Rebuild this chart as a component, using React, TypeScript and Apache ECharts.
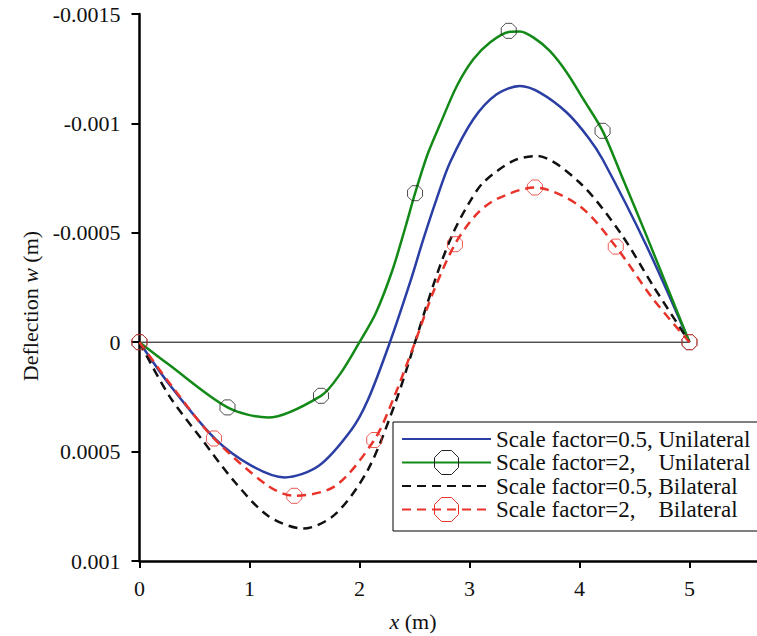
import React, { useEffect, useRef } from "react";
import * as echarts from "echarts";

const NAME_U05 = "Scale factor=0.5, Unilateral";
const NAME_U2 = "Scale factor=2,    Unilateral";
const NAME_B05 = "Scale factor=0.5, Bilateral";
const NAME_B2 = "Scale factor=2,    Bilateral";

const xTicks = [0, 1, 2, 3, 4, 5];

const u05Curve: [number, number][] = [
  [0, 0], [0.27, 0.000192], [0.69, 0.000443], [1.02, 0.000565], [1.32, 0.000618],
  [1.63, 0.000565], [1.93, 0.000398], [2.08, 0.00026], [2.277, 0], [2.459, -0.000272],
  [2.58, -0.00047], [2.7, -0.000653], [2.823, -0.000821], [3.035, -0.001019],
  [3.247, -0.001133], [3.459, -0.001171], [3.64, -0.001141], [3.884, -0.00105],
  [4.08, -0.000936], [4.21, -0.000836], [4.61, -0.00044], [5, 0],
];

const u2Curve: [number, number][] = [
  [0, 0], [0.26, 0.0001], [0.8, 0.000298], [1.17, 0.000344], [1.65, 0.000245],
  [1.823, 0.000146], [2.0, 0], [2.15, -0.000135], [2.3, -0.00033], [2.42, -0.00053],
  [2.505, -0.00068], [2.62, -0.00086], [2.732, -0.000995], [2.884, -0.00117],
  [3.035, -0.001293], [3.186, -0.00137], [3.357, -0.001418], [3.459, -0.00142],
  [3.58, -0.001393], [3.73, -0.001331], [3.884, -0.001233], [4.035, -0.001111],
  [4.21, -0.000966], [4.4, -0.00074], [4.61, -0.000486], [5, 0],
];

const b05Curve: [number, number][] = [
  [0, 0], [0.27, 0.000245], [0.565, 0.000443], [0.87, 0.000641], [1.17, 0.000794],
  [1.49, 0.000852], [1.78, 0.000786], [2.08, 0.00058], [2.338, 0.00026], [2.505, 0],
  [2.61, -0.000167], [2.732, -0.000349], [2.853, -0.000501], [2.99, -0.000631],
  [3.126, -0.00073], [3.398, -0.000829], [3.61, -0.000851], [4.0, -0.00073],
  [4.37, -0.000501], [4.67, -0.000257], [5, 0],
];

const b2Curve: [number, number][] = [
  [0, 0], [0.3, 0.000205], [0.677, 0.00044], [1.17, 0.000657], [1.407, 0.000702],
  [1.78, 0.000657], [2.134, 0.000447], [2.307, 0.00026], [2.505, 0], [2.67, -0.000228],
  [2.868, -0.000448], [3.065, -0.000585], [3.247, -0.000654], [3.59, -0.000707],
  [4.0, -0.000623], [4.33, -0.000437], [4.67, -0.000197], [5, 0],
];

const u2Markers: [number, number][] = [
  [0, 0], [0.8, 0.000298], [1.65, 0.000245], [2.505, -0.000681], [3.357, -0.001423],
  [4.21, -0.000966], [5, 0],
];

const b2Markers: [number, number][] = [
  [0, 0], [0.677, 0.00044], [1.407, 0.000702], [2.134, 0.000447], [2.868, -0.000448],
  [3.595, -0.000707], [4.33, -0.000437], [5, 0],
];

const zeroLine: [number, number][] = [[0, 0], [5, 0]];

const BLUE = "#2b3ea3";
const GREEN = "#138a18";
const BLACK = "#111111";
const RED = "#e8332a";
const FONT = "Liberation Serif";
const OCT = "path://M-4.14,-10L4.14,-10L10,-4.14L10,4.14L4.14,10L-4.14,10L-10,4.14L-10,-4.14Z";

export default function App() {
  const ref = useRef<HTMLDivElement>(null);
  useEffect(() => {
    if (!ref.current) return;
    const chart = echarts.init(ref.current, undefined, { renderer: "svg" });
    const curve = (name: string, data: [number, number][], color: string, dashed: boolean, sym: string) => ({
      type: "line",
      name,
      data,
      smooth: 0.3,
      symbol: sym,
      showSymbol: false,
      z: 3,
      itemStyle: { color },
      lineStyle: dashed ? { color, width: 2.5, type: [9, 6] } : { color, width: 2.5 },
    });
    chart.setOption({
      animation: false,
      backgroundColor: "#ffffff",
      grid: { left: 139.5, right: 0, top: 14, bottom: 75, containLabel: false },
      xAxis: {
        type: "value",
        min: 0,
        max: 5.614,
        interval: 1,
        axisLine: { onZero: false, lineStyle: { color: "#000", width: 2.5 } },
        axisTick: { length: 7, lineStyle: { color: "#000", width: 2 }, customValues: xTicks },
        axisLabel: {
          customValues: xTicks,
          margin: 16,
          color: "#111",
          fontFamily: FONT,
          fontSize: 22,
        },
        splitLine: { show: false },
      },
      yAxis: {
        type: "value",
        inverse: true,
        min: -0.0015,
        max: 0.001,
        interval: 0.0005,
        axisLine: { onZero: false, lineStyle: { color: "#000", width: 2.5 } },
        axisTick: { length: 8, lineStyle: { color: "#000", width: 2 } },
        axisLabel: {
          margin: 19,
          color: "#111",
          fontFamily: FONT,
          fontSize: 22,
          formatter: (v: number) => String(Math.round(v * 1e5) / 1e5),
        },
        splitLine: { show: false },
      },
      legend: {
        orient: "vertical",
        left: 393,
        top: 422,
        itemWidth: 89,
        itemHeight: 30,
        itemGap: -1,
        itemTextGap: 10,
        padding: [5, 30, 9, 8],
        backgroundColor: "#ffffff",
        borderColor: "#000",
        borderWidth: 1,
        borderRadius: 0,
        textStyle: { fontFamily: FONT, fontSize: 23, color: "#111" },
        data: [
          { name: NAME_U05, itemStyle: { opacity: 0 } },
          { name: NAME_U2, itemStyle: { color: "rgba(0,0,0,0)", borderColor: "#222", borderWidth: 1 } },
          { name: NAME_B05, itemStyle: { opacity: 0 } },
          { name: NAME_B2, itemStyle: { color: "rgba(0,0,0,0)", borderColor: RED, borderWidth: 1 } },
        ],
      },
      graphic: [
        {
          type: "text",
          x: 30,
          y: 306,
          rotation: Math.PI / 2,
          style: {
            text: "Deflection {i|w} (m)",
            fontFamily: FONT,
            fontSize: 22,
            fill: "#111",
            align: "center",
            verticalAlign: "middle",
            rich: { i: { fontStyle: "italic", fontFamily: FONT, fontSize: 22, fill: "#111" } },
          },
        },
        {
          type: "text",
          x: 413,
          y: 621,
          style: {
            text: "{i|x} (m)",
            fontFamily: FONT,
            fontSize: 22,
            fill: "#111",
            align: "center",
            verticalAlign: "middle",
            rich: { i: { fontStyle: "italic", fontFamily: FONT, fontSize: 22, fill: "#111" } },
          },
        },
      ],
      series: [
        {
          type: "line",
          name: "zero",
          data: zeroLine,
          symbol: "none",
          silent: true,
          z: 1,
          lineStyle: { color: "#000", width: 1 },
        },
        curve(NAME_U05, u05Curve, BLUE, false, "none"),
        curve(NAME_U2, u2Curve, GREEN, false, OCT),
        curve(NAME_B05, b05Curve, BLACK, true, "none"),
        curve(NAME_B2, b2Curve, RED, true, OCT),
        {
          type: "scatter",
          name: NAME_U2,
          data: u2Markers,
          symbol: OCT,
          symbolSize: 15,
          z: 4,
          itemStyle: { color: "rgba(0,0,0,0)", borderColor: "#222", borderWidth: 1 },
        },
        {
          type: "scatter",
          name: NAME_B2,
          data: b2Markers,
          symbol: OCT,
          symbolSize: 15,
          z: 4,
          itemStyle: { color: "rgba(0,0,0,0)", borderColor: RED, borderWidth: 1 },
        },
      ],
    });
    return () => chart.dispose();
  }, []);
  return (
    <div
      ref={ref}
      style={{ position: "absolute", left: 0, top: 0, width: 757, height: 636 }}
    />
  );
}
